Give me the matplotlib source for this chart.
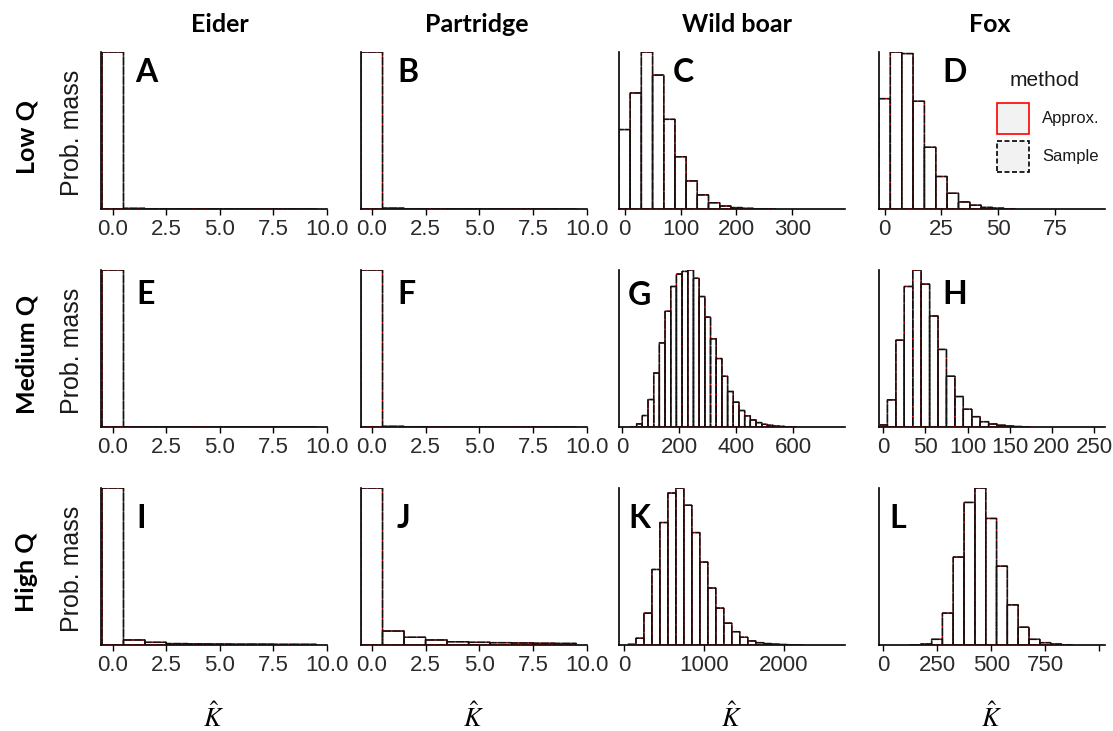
import numpy as np
import matplotlib
matplotlib.use("Agg")
import matplotlib.pyplot as plt
from matplotlib.patches import Rectangle

plt.rcParams['mathtext.fontset'] = 'stix'

W, H = 1113, 731

species = ["Eider", "Partridge", "Wild boar", "Fox"]
quotas = ["Low Q", "Medium Q", "High Q"]
letters = [["A", "B", "C", "D"], ["E", "F", "G", "H"], ["I", "J", "K", "L"]]

# bins: (first bin centre, bin width) per panel
eider_bins = (0, 1)
partridge_bins = (0, 1)
boar_low_bins = (0, 20)
boar_med_bins = (40, 20)
boar_high_bins = (100, 100)
fox_low_bins = (0, 5)
fox_med_bins = (0, 10)
fox_high_bins = (150, 50)

# probability mass per bin (relative to the tallest bar)
eider_low = [1.0, 0.004, 0.002, 0.001, 0.0005, 0.0003, 0.0002, 0.0001, 0.0001, 0.0001]
partridge_low = [1.0, 0.005, 0.002, 0.001, 0.0006, 0.0004, 0.0003, 0.0002, 0.0001, 0.0001]
boar_low = [0.506, 0.739, 1.0, 0.853, 0.571, 0.333, 0.179, 0.09, 0.04, 0.019,
            0.009, 0.004, 0.002, 0.001]
fox_low = [0.703, 1.0, 0.99, 0.686, 0.393, 0.207, 0.10, 0.045, 0.024, 0.01,
           0.005, 0.002]

eider_med = [1.0, 0.001, 0.0005, 0.0002, 0.0001, 0.0001, 0.0, 0.0, 0.0, 0.0]
partridge_med = [1.0, 0.004, 0.002, 0.001, 0.0005, 0.0003, 0.0002, 0.0001, 0.0001, 0.0001]
boar_med = [0.002, 0.02, 0.073, 0.175, 0.344, 0.536, 0.737, 0.895, 0.974, 0.991,
            1.0, 0.947, 0.831, 0.70, 0.562, 0.436, 0.323, 0.226, 0.158, 0.105,
            0.071, 0.045, 0.028, 0.017, 0.011, 0.006, 0.004, 0.002, 0.001]
fox_med = [0.013, 0.173, 0.553, 0.895, 1.0, 0.91, 0.707, 0.494, 0.323, 0.194,
           0.113, 0.066, 0.034, 0.019, 0.011, 0.006, 0.003, 0.001]

eider_high = [1.0, 0.032, 0.017, 0.009, 0.007, 0.006, 0.005, 0.005, 0.004, 0.004]
partridge_high = [1.0, 0.089, 0.049, 0.032, 0.021, 0.017, 0.015, 0.013, 0.011, 0.010]
boar_high = [0.004, 0.043, 0.203, 0.481, 0.78, 0.968, 1.0, 0.89, 0.716, 0.528,
             0.363, 0.235, 0.139, 0.085, 0.049, 0.026, 0.015, 0.009, 0.005, 0.003,
             0.002, 0.001]
fox_high = [0.001, 0.006, 0.036, 0.203, 0.56, 0.908, 1.0, 0.806, 0.502, 0.256,
            0.113, 0.036, 0.015, 0.006, 0.002]

# Approx. and Sample coincide visually in every panel
sample = [[eider_low, partridge_low, boar_low, fox_low],
          [eider_med, partridge_med, boar_med, fox_med],
          [eider_high, partridge_high, boar_high, fox_high]]
approx = sample
bins = [[eider_bins, partridge_bins, boar_low_bins, fox_low_bins],
        [eider_bins, partridge_bins, boar_med_bins, fox_med_bins],
        [eider_bins, partridge_bins, boar_high_bins, fox_high_bins]]

xlims = [[(-0.55, 10.0), (-0.5, 10.0), (-10, 394), (-2.5, 97)],
         [(-0.55, 10.0), (-0.5, 10.0), (-12, 783), (-5, 263)],
         [(-0.55, 10.0), (-0.5, 10.0), (-62, 2768), (-18, 1026)]]
xticks = [[[0, 2.5, 5, 7.5, 10], [0, 2.5, 5, 7.5, 10], [0, 100, 200, 300], [0, 25, 50, 75]],
          [[0, 2.5, 5, 7.5, 10], [0, 2.5, 5, 7.5, 10], [0, 200, 400, 600], [0, 50, 100, 150, 200, 250]],
          [[0, 2.5, 5, 7.5, 10], [0, 2.5, 5, 7.5, 10], [0, 1000, 2000], [0, 250, 500, 750, 1000]]]

# layout in pixels
col_left = [101, 361, 619, 879]
col_width = 226
row_top = [52, 270, 488]
row_height = 157
letter_pos = [[(135, 73), (397, 73), (673, 73), (942, 73)],
              [(136, 294), (397, 294), (628, 295), (942, 294)],
              [(136, 518), (397, 518), (628, 518), (889, 518)]]
title_x = [220, 477, 737, 990]

fig = plt.figure(figsize=(W / 100, H / 100), dpi=100)

def fx(px):
    return px / W

def fy(py):
    return 1 - py / H

bold = dict(family=['Lato', 'DejaVu Sans'], fontweight='bold', color='black')
dash = (0, (6, 1))

for r in range(3):
    for c in range(4):
        ax = fig.add_axes([fx(col_left[c]), fy(row_top[r] + row_height),
                           fx(col_width), row_height / H])
        start, width = bins[r][c]
        vals = sample[r][c]
        centres = start + width * np.arange(len(vals))
        b1 = ax.bar(centres, vals, width=width, color='white', edgecolor='black',
                    linewidth=1.0, zorder=2)
        b2 = ax.bar(centres, approx[r][c], width=width, fill=False, edgecolor='red',
                    linewidth=0.6, zorder=3)
        b3 = ax.bar(centres, vals, width=width, fill=False, edgecolor='#111111',
                    linewidth=1.0, linestyle=dash, zorder=4)
        for bars in (b1, b2, b3):
            for p in bars:
                p.set_snap(False)
        ax.set_xlim(*xlims[r][c])
        ax.set_ylim(0, max(vals))
        ax.set_yticks([])
        ticks = xticks[r][c]
        ax.set_xticks(ticks)
        if c < 2:
            labels = ["%.1f" % t for t in ticks]
        else:
            labels = ["%d" % t for t in ticks]
        if r == 2 and c == 3:
            labels[-1] = ""
        ax.set_xticklabels(labels)
        ax.tick_params(axis='x', length=4, width=1.0, labelsize=16,
                       labelcolor='#2b2b2b', pad=3)
        for lab in ax.get_xticklabels():
            lab.set_family(['Liberation Sans', 'DejaVu Sans'])
        for s in ['top', 'right']:
            ax.spines[s].set_visible(False)
        for s in ['left', 'bottom']:
            ax.spines[s].set_linewidth(1.2)
        ax.patch.set_alpha(0)
        lx, ly = letter_pos[r][c]
        fig.text(fx(lx), fy(ly), letters[r][c], ha='left', va='center',
                 fontsize=23, **bold)

for c, name in enumerate(species):
    fig.text(fx(title_x[c]), fy(24), name, ha='center', va='center',
             fontsize=18, **bold)
    fig.text(fx(col_left[c] + col_width / 2), fy(718), r'$\hat{K}$',
             ha='center', va='center', fontsize=19)

for r, q in enumerate(quotas):
    yc = row_top[r] + row_height / 2 + 6
    fig.text(fx(27), fy(yc), q, rotation=90, ha='center', va='center',
             fontsize=18, **bold)
    fig.text(fx(72), fy(yc - 4), "Prob. mass", rotation=90, ha='center',
             va='center', fontsize=18, color='#1a1a1a',
             family=['Liberation Sans', 'DejaVu Sans'])

# legend for method
fig.text(fx(1045), fy(80), "method", ha='center', va='center', fontsize=15,
         color='#1a1a1a', family=['Liberation Sans', 'DejaVu Sans'])
legend_items = [("Approx.", 'red', '-', 103), ("Sample", 'black', (0, (3, 1.5)), 141)]
for label, ec, ls, top in legend_items:
    fig.add_artist(Rectangle((fx(997), fy(top + 31)), fx(32), 31 / H,
                             transform=fig.transFigure, facecolor='#f2f2f2',
                             edgecolor=ec, linestyle=ls, linewidth=1.2))
    fig.text(fx(1042), fy(top + 16), label, ha='left', va='center', fontsize=12,
             color='#1a1a1a', family=['Liberation Sans', 'DejaVu Sans'])

fig.savefig("out.png", dpi=100)
